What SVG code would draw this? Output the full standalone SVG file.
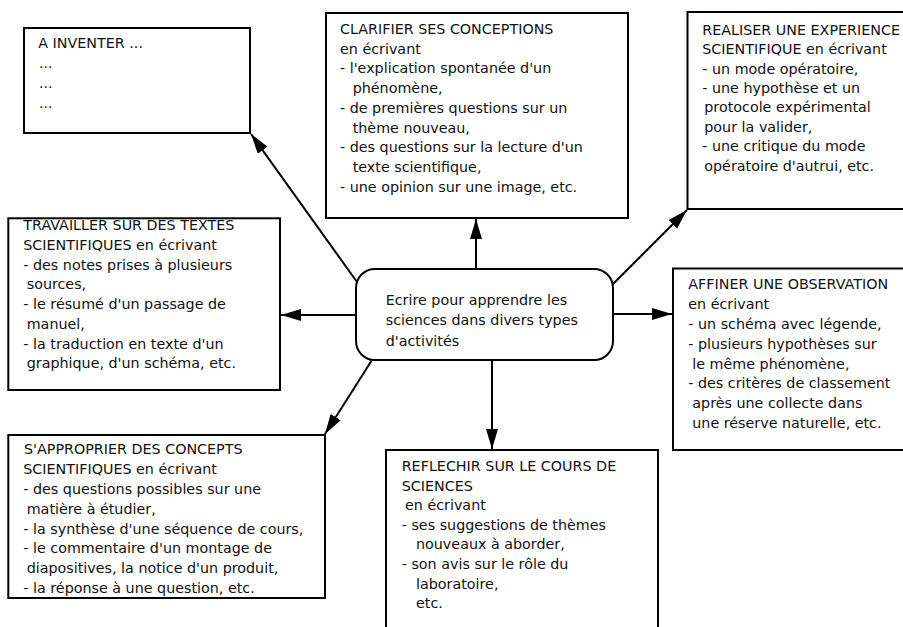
<svg xmlns="http://www.w3.org/2000/svg" width="903" height="627" viewBox="0 0 903 627">
<style>
  .box { fill: #ffffff; stroke: #000000; stroke-width: 2; }
  .t { font-family: "DejaVu Sans", "Liberation Sans", sans-serif; font-size: 14.3px; fill: #111111; }
  .c { stroke: #000000; stroke-width: 2; fill: none; marker-end: url(#ah); }
</style>
<defs>
  <marker id="ah" markerUnits="userSpaceOnUse" markerWidth="22" markerHeight="14" refX="20" refY="6" orient="auto">
    <path d="M0,0 L20,6 L0,12 z" fill="#000000"/>
  </marker>
</defs>
<rect x="0" y="0" width="903" height="627" fill="#ffffff"/>

<g id="connectors">
  <line class="c" x1="357" y1="282" x2="251" y2="134"/>
  <line class="c" x1="476" y1="269" x2="476" y2="219"/>
  <line class="c" x1="612" y1="285" x2="687" y2="210"/>
  <line class="c" x1="357" y1="315" x2="281" y2="315"/>
  <line class="c" x1="613" y1="314" x2="672" y2="314"/>
  <line class="c" x1="372" y1="360" x2="325" y2="434"/>
  <line class="c" x1="492" y1="360" x2="492" y2="449"/>
</g>

<g id="inventer">
  <rect class="box" x="24" y="28" width="226" height="105"/>
  <text class="t" x="38.3" y="48.3">A INVENTER ...</text>
  <text class="t" x="39" y="68.3">...</text>
  <text class="t" x="39" y="88.3">...</text>
  <text class="t" x="39" y="108.3">...</text>
</g>

<g id="clarifier">
  <rect class="box" x="326" y="13" width="302" height="205"/>
  <text class="t" x="340" y="34">CLARIFIER SES CONCEPTIONS</text>
  <text class="t" x="340" y="53.7">en écrivant</text>
  <text class="t" x="340" y="73.4">- l'explication spontanée d'un</text>
  <text class="t" x="352.7" y="93.1">phénomène,</text>
  <text class="t" x="340" y="112.8">- de premières questions sur un</text>
  <text class="t" x="352.7" y="132.5">thème nouveau,</text>
  <text class="t" x="340" y="152.2">- des questions sur la lecture d'un</text>
  <text class="t" x="352.7" y="171.9">texte scientifique,</text>
  <text class="t" x="340" y="191.6">- une opinion sur une image, etc.</text>
</g>

<g id="realiser">
  <rect class="box" x="687.5" y="12" width="230" height="197"/>
  <text class="t" x="702.3" y="34.7">REALISER UNE EXPERIENCE</text>
  <text class="t" x="702.3" y="54.1">SCIENTIFIQUE en écrivant</text>
  <text class="t" x="702.3" y="73.5">- un mode opératoire,</text>
  <text class="t" x="702.3" y="92.9">- une hypothèse et un</text>
  <text class="t" x="704.3" y="112.3">protocole expérimental</text>
  <text class="t" x="704.3" y="131.7">pour la valider,</text>
  <text class="t" x="702.3" y="151.1">- une critique du mode</text>
  <text class="t" x="704.3" y="170.5">opératoire d'autrui, etc.</text>
</g>

<g id="travailler">
  <rect class="box" x="8.3" y="218.3" width="271.7" height="171.7"/>
  <text class="t" x="23.3" y="230">TRAVAILLER SUR DES TEXTES</text>
  <text class="t" x="23.3" y="249.8">SCIENTIFIQUES en écrivant</text>
  <text class="t" x="23.3" y="269.5">- des notes prises à plusieurs</text>
  <text class="t" x="26.7" y="289.3">sources,</text>
  <text class="t" x="23.3" y="309">- le résumé d'un passage de</text>
  <text class="t" x="26.7" y="328.8">manuel,</text>
  <text class="t" x="23.3" y="348.6">- la traduction en texte d'un</text>
  <text class="t" x="26.7" y="368.3">graphique, d'un schéma, etc.</text>
</g>

<g id="centre">
  <rect class="box" x="356" y="269" width="257" height="91" rx="19" ry="19"/>
  <text class="t" x="385.7" y="304.5">Ecrire pour apprendre les</text>
  <text class="t" x="385.7" y="325">sciences dans divers types</text>
  <text class="t" x="385.7" y="345.5">d'activités</text>
</g>

<g id="affiner">
  <rect class="box" x="673" y="268.5" width="240" height="181.5"/>
  <text class="t" x="688.3" y="289.3">AFFINER UNE OBSERVATION</text>
  <text class="t" x="688.3" y="309.1">en écrivant</text>
  <text class="t" x="688.3" y="328.9">- un schéma avec légende,</text>
  <text class="t" x="688.3" y="348.7">- plusieurs hypothèses sur</text>
  <text class="t" x="692.3" y="368.5">le même phénomène,</text>
  <text class="t" x="688.3" y="388.3">- des critères de classement</text>
  <text class="t" x="692.3" y="408.1">après une collecte dans</text>
  <text class="t" x="692.3" y="427.9">une réserve naturelle, etc.</text>
</g>

<g id="approprier">
  <rect class="box" x="8.3" y="435" width="316.7" height="163"/>
  <text class="t" x="24" y="454.3">S'APPROPRIER DES CONCEPTS</text>
  <text class="t" x="23.3" y="474.1">SCIENTIFIQUES en écrivant</text>
  <text class="t" x="23.3" y="493.9">- des questions possibles sur une</text>
  <text class="t" x="26.7" y="513.7">matière à étudier,</text>
  <text class="t" x="23.3" y="533.5">- la synthèse d'une séquence de cours,</text>
  <text class="t" x="23.3" y="553.3">- le commentaire d'un montage de</text>
  <text class="t" x="26.7" y="573.1">diapositives, la notice d'un produit,</text>
  <text class="t" x="23.3" y="592.9">- la réponse à une question, etc.</text>
</g>

<g id="reflechir">
  <rect class="box" x="386" y="450" width="272" height="190"/>
  <text class="t" x="401.7" y="471">REFLECHIR SUR LE COURS DE</text>
  <text class="t" x="401.7" y="490.6">SCIENCES</text>
  <text class="t" x="405" y="510.2">en écrivant</text>
  <text class="t" x="401.7" y="529.8">- ses suggestions de thèmes</text>
  <text class="t" x="416" y="549.4">nouveaux à aborder,</text>
  <text class="t" x="401.7" y="569">- son avis sur le rôle du</text>
  <text class="t" x="416" y="588.6">laboratoire,</text>
  <text class="t" x="416" y="608.2">etc.</text>
</g>
</svg>
